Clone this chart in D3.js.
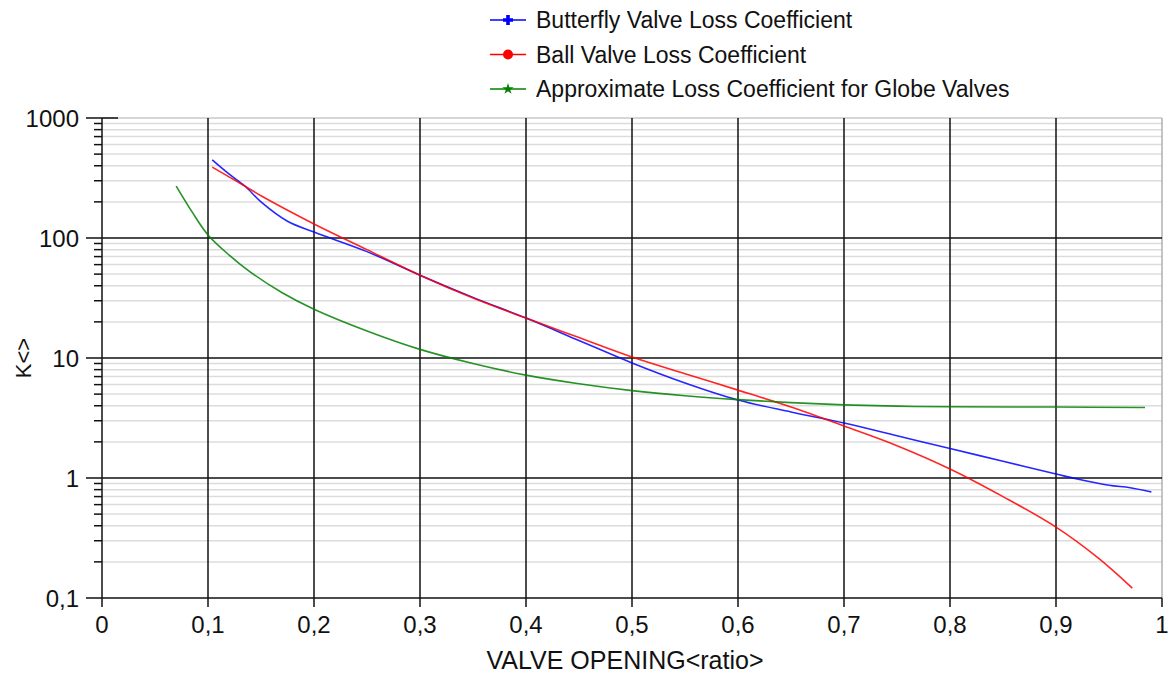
<!DOCTYPE html>
<html>
<head>
<meta charset="utf-8">
<script src="https://cdn.jsdelivr.net/npm/d3@7"></script>
<style>
  body { margin: 0; background: #fff; }
  svg { display: block; font-family: "Liberation Sans", Arial, sans-serif; }
</style>
</head>
<body>
<div id="chart"></div>
<script>
const W = 1171, H = 680;
const M = { top: 118, right: 9, bottom: 82, left: 102 };

// valve opening ratio -> loss coefficient K
const butterflyX = [0.104, 0.12, 0.135, 0.15, 0.175, 0.2, 0.25, 0.3, 0.35, 0.4, 0.45, 0.5, 0.55, 0.6, 0.65, 0.7, 0.75, 0.8, 0.85, 0.9, 0.92, 0.95, 0.97, 0.99];
const butterflyK = [447, 340, 270, 200, 138, 112, 77, 49, 32, 21.5, 14, 9.1, 6.2, 4.47, 3.55, 2.87, 2.25, 1.76, 1.38, 1.08, 0.98, 0.87, 0.83, 0.765];

const ballX = [0.104, 0.135, 0.15, 0.2, 0.25, 0.3, 0.35, 0.4, 0.45, 0.5, 0.55, 0.6, 0.65, 0.7, 0.75, 0.8, 0.85, 0.9, 0.94, 0.972];
const ballK = [390, 270, 225, 131, 80, 49, 31.6, 21.5, 14.8, 10.2, 7.4, 5.4, 3.9, 2.71, 1.86, 1.19, 0.70, 0.39, 0.215, 0.121];

const globeX = [0.07, 0.085, 0.1, 0.12, 0.14, 0.17, 0.2, 0.25, 0.3, 0.35, 0.4, 0.45, 0.5, 0.55, 0.6, 0.65, 0.7, 0.75, 0.8, 0.9, 0.984];
const globeK = [271, 165, 106, 72, 52, 35, 25.5, 16.8, 11.8, 9.0, 7.2, 6.1, 5.35, 4.85, 4.5, 4.25, 4.07, 3.97, 3.92, 3.9, 3.87];

const xTicks = d3.range(0, 11).map(i => i / 10);
const yMajor = [0.1, 1, 10, 100, 1000];

const series = [
  { name: "Butterfly Valve Loss Coefficient", color: "#0000ff", marker: "plus", xs: butterflyX, ks: butterflyK },
  { name: "Ball Valve Loss Coefficient", color: "#ff0000", marker: "circle", xs: ballX, ks: ballK },
  { name: "Approximate Loss Coefficient for Globe Valves", color: "#008000", marker: "star", xs: globeX, ks: globeK },
];

const svg = d3.select("#chart").append("svg").attr("width", W).attr("height", H);

const x = d3.scaleLinear().domain([0, 1]).range([M.left, W - M.right]);
const y = d3.scaleLog().domain([0.1, 1000]).range([H - M.bottom, M.top]);

const fmt = d => String(d).replace(".", ",");

// minor grid
const yMinor = [];
yMajor.slice(0, -1).forEach(d => { for (let k = 2; k <= 9; k++) yMinor.push(d * k); });
svg.append("g").selectAll("line").data(yMinor).join("line")
  .attr("x1", x(0)).attr("x2", x(1))
  .attr("y1", d => y(d)).attr("y2", d => y(d))
  .attr("stroke", "#dcdcdc").attr("stroke-width", 1.5);

// top + right frame (light)
svg.append("line").attr("x1", x(0)).attr("x2", x(1)).attr("y1", y(1000)).attr("y2", y(1000))
  .attr("stroke", "#c8c8c8").attr("stroke-width", 1.5);
svg.append("line").attr("x1", x(1)).attr("x2", x(1)).attr("y1", y(1000)).attr("y2", y(0.1))
  .attr("stroke", "#b0b0b0").attr("stroke-width", 1.5);

// major grid
svg.append("g").selectAll("line").data(yMajor.slice(0, -1)).join("line")
  .attr("x1", x(0) - 16).attr("x2", x(1))
  .attr("y1", d => y(d)).attr("y2", d => y(d))
  .attr("stroke", "#111").attr("stroke-width", 1.5);
svg.append("line").attr("x1", x(0) - 16).attr("x2", x(0) + 16).attr("y1", y(1000)).attr("y2", y(1000))
  .attr("stroke", "#111").attr("stroke-width", 1.5);
svg.append("g").selectAll("line").data(xTicks.slice(0, -1)).join("line")
  .attr("x1", d => x(d)).attr("x2", d => x(d))
  .attr("y1", y(1000)).attr("y2", y(0.1) + 9)
  .attr("stroke", "#111").attr("stroke-width", 1.5);
svg.append("line").attr("x1", x(1)).attr("x2", x(1)).attr("y1", y(0.1)).attr("y2", y(0.1) + 9)
  .attr("stroke", "#111").attr("stroke-width", 1.5);

// minor ticks on y axis
svg.append("g").selectAll("line").data(yMinor).join("line")
  .attr("x1", x(0) - 8).attr("x2", x(0))
  .attr("y1", d => y(d)).attr("y2", d => y(d))
  .attr("stroke", "#111").attr("stroke-width", 1.5);

// tick labels
svg.append("g").selectAll("text").data(yMajor).join("text")
  .attr("x", x(0) - 23).attr("y", d => y(d)).attr("dy", "0.36em")
  .attr("text-anchor", "end").attr("font-size", 24).attr("fill", "#111")
  .text(d => fmt(d));
svg.append("g").selectAll("text").data(xTicks).join("text")
  .attr("x", d => x(d)).attr("y", y(0.1) + 35)
  .attr("text-anchor", "middle").attr("font-size", 24).attr("fill", "#111")
  .text(d => fmt(d));

// axis titles
svg.append("text").attr("x", 625).attr("y", 669)
  .attr("text-anchor", "middle").attr("font-size", 25).attr("fill", "#111")
  .text("VALVE OPENING<ratio>");
svg.append("text").attr("transform", `translate(31,${y(10)}) rotate(-90)`)
  .attr("text-anchor", "middle").attr("font-size", 22).attr("fill", "#111")
  .text("K<>");

// curves
const line = d3.line().x(d => x(d[0])).y(d => y(d[1])).curve(d3.curveCatmullRom.alpha(0.5));
series.forEach(s => {
  svg.append("path").datum(s.xs.map((v, i) => [v, s.ks[i]]))
    .attr("d", line).attr("fill", "none")
    .attr("stroke", s.color).attr("stroke-width", 1.6).attr("stroke-opacity", 0.85);
});

// legend
const leg = svg.append("g").attr("transform", "translate(490,20)");
series.forEach((s, i) => {
  const g = leg.append("g").attr("transform", `translate(0,${i * 34.5})`);
  g.append("line").attr("x1", 0).attr("x2", 36).attr("stroke", s.color).attr("stroke-width", 1.6);
  if (s.marker === "plus") {
    g.append("path").attr("d", "M13,-1.8H23V1.8H13Z M16.2,-5H19.8V5H16.2Z").attr("fill", s.color);
  } else if (s.marker === "circle") {
    g.append("circle").attr("cx", 18).attr("cy", 0).attr("r", 5).attr("fill", s.color);
  } else {
    g.append("path").attr("transform", "translate(18,0)")
      .attr("d", d3.symbol(d3.symbolStar, 40)()).attr("fill", s.color);
  }
  g.append("text").attr("x", 46).attr("y", 0).attr("dy", "0.35em")
    .attr("font-size", 23).attr("fill", "#111").text(s.name);
});
</script>
</body>
</html>
